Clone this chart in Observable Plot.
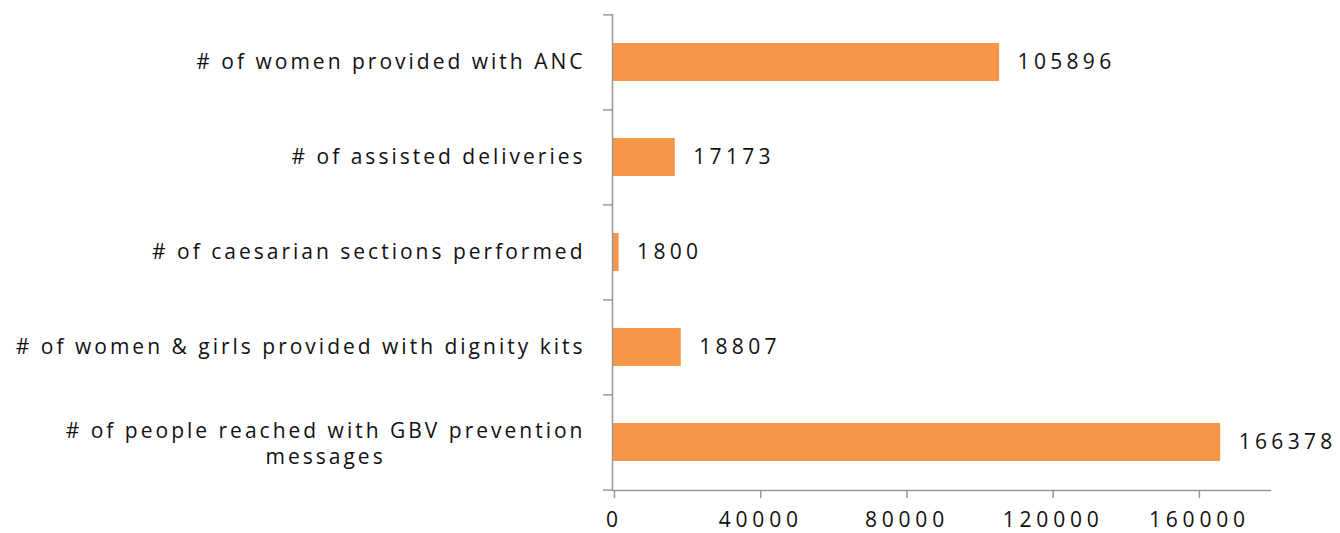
<!DOCTYPE html>
<html><head><meta charset="utf-8">
<script src="https://cdn.jsdelivr.net/npm/d3@7"></script>
<script src="https://cdn.jsdelivr.net/npm/@observablehq/plot@0.6"></script>
<style>
html,body{margin:0;padding:0;background:#fff;}
svg{display:block;}
#chart svg text { letter-spacing: 3px; }
#chart svg > g:last-child text { letter-spacing: 4.3px; }
#chart svg g[aria-label="x-axis tick label"] text { letter-spacing: 4.8px; }
</style>
</head><body>
<div id="chart"></div>
<script>
const categories = [
  "# of women provided with ANC",
  "# of assisted deliveries",
  "# of caesarian sections performed",
  "# of women & girls provided with dignity kits",
  "# of people reached with GBV prevention\nmessages"
];
const values = [105896, 17173, 1800, 18807, 166378];
const xTicks = [0, 40000, 80000, 120000, 160000];

const data = categories.map((c, i) => ({category: c, value: values[i]}));
const FONT = "Open Sans";
const FS = 21;
const CAT_SPACING = 3;

function textWidth(s) {
  const c = document.createElement("canvas").getContext("2d");
  c.font = `${FS}px "${FONT}"`;
  return Math.max(...s.split("\n").map(l => c.measureText(l).width + CAT_SPACING * l.length));
}
const single = data.filter(d => !d.category.includes("\n"));
const multi = data.filter(d => d.category.includes("\n"));
const step = 95.2;

const chart = Plot.plot({
  width: 1340,
  height: 533,
  marginLeft: 612,
  marginRight: 70,
  marginTop: 14,
  marginBottom: 43,
  style: {fontFamily: FONT, fontSize: FS + "px", color: "#000", background: "#fff"},
  x: {domain: [0, 180000], ticks: xTicks, label: null},
  y: {domain: categories, paddingInner: 0.6, paddingOuter: 0.3, label: null},
  marks: [
    Plot.barX(data, {x: "value", y: "category", fill: "#F79646"}),
    Plot.frame({anchor: "bottom", stroke: "#999", strokeWidth: 1.5}),
    Plot.ruleX([0], {stroke: "#999", strokeWidth: 1.5}),
    Plot.axisY({tickSize: 9, text: null, dy: -step / 2, stroke: "#999", strokeWidth: 1.5}),
    Plot.axisY({ticks: [categories[categories.length - 1]], tickSize: 9, text: null, dy: step / 2, stroke: "#999", strokeWidth: 1.5}),
    Plot.axisX({ticks: xTicks, tickSize: 8, tickPadding: 14, dx: 2, tickFormat: d => String(d), stroke: "#999", strokeWidth: 1.5, fill: "#111", fontSize: FS}),
    Plot.text(single, {x: 0, y: "category", text: "category", textAnchor: "end", dx: -27, fill: "#111", fontSize: FS}),
    Plot.text(multi, {x: 0, y: "category", text: "category", textAnchor: "middle", dx: -27 - textWidth(multi[0].category) / 2, lineHeight: 1.25, fill: "#111", fontSize: FS}),
    Plot.text(data, {x: "value", y: "category", text: d => String(d.value), textAnchor: "start", dx: 18, fill: "#111", fontSize: FS})
  ]
});
document.getElementById("chart").appendChild(chart);
</script>
</body></html>
